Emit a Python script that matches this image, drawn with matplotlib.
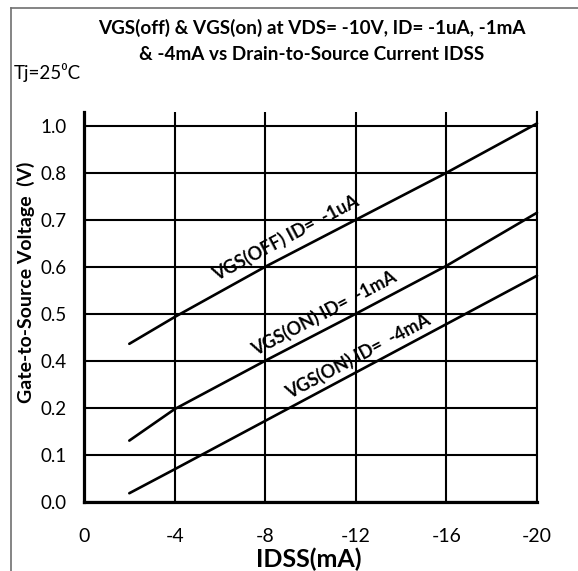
import matplotlib.pyplot as plt
import numpy as np
from matplotlib.lines import Line2D

# data
idss = [-2, -4, -8, -12, -16, -20]
vgs_off_1ua = [0.436, 0.493, 0.6, 0.7, 0.8, 1.01]
vgs_on_1ma = [0.130, 0.197, 0.4, 0.5, 0.602, 0.715]
vgs_on_4ma = [0.018, 0.069, 0.172, 0.35, 0.478, 0.581]

x_ticks = [0, -4, -8, -12, -16, -20]
y_ticks = [0.0, 0.1, 0.2, 0.4, 0.5, 0.6, 0.7, 0.8, 1.0]

# the y labels are evenly spaced although their values are not
_vals = [-0.1] + y_ticks + [1.2]
_pos = np.arange(len(_vals)) - 1.0


def fwd(v):
    return np.interp(v, _vals, _pos)


def inv(p):
    return np.interp(p, _pos, _vals)


W, H = 578, 571
plt.rcParams['font.family'] = ['Lato', 'DejaVu Sans']

fig = plt.figure(figsize=(W / 100, H / 100), dpi=100)
ax = fig.add_axes([84 / W, (H - 501.7) / H, (537 - 84) / W, 390 / H])

ax.set_yscale('function', functions=(fwd, inv))
ax.set_xlim(0, -20)
ax.set_ylim(0, inv(8.3))

for y in (vgs_off_1ua, vgs_on_1ma, vgs_on_4ma):
    ax.plot(idss, y, color='black', lw=1.9, solid_capstyle='round', clip_on=False)

ax.set_xticks(x_ticks)
ax.set_xticklabels([str(t) for t in x_ticks], fontsize=14)
ax.set_yticks(y_ticks)
ax.set_yticklabels(['%.1f' % t for t in y_ticks], fontsize=13.5)
ax.yaxis.set_minor_locator(plt.NullLocator())
ax.tick_params(axis='both', length=0)
ax.tick_params(axis='y', pad=12.5)
ax.tick_params(axis='x', pad=19)

ax.grid(True, color='black', lw=1.5)
ax.set_axisbelow(True)
ax.spines['top'].set_visible(False)
ax.spines['right'].set_linewidth(1.5)
ax.spines['left'].set_linewidth(2.3)
ax.spines['bottom'].set_linewidth(2.3)

lbl = dict(rotation=28, rotation_mode='anchor', ha='center', va='center',
           fontsize=13, fontweight='bold')
ax.text(-8.92, 0.661, 'VGS(OFF) ID=  -1uA', **lbl)
ax.text(-10.6, 0.501, 'VGS(ON) ID=  -1mA', **lbl)
ax.text(-12.1, 0.41, 'VGS(ON) ID=  -4mA', **lbl)

fig.text(312 / W, 1 - 27.5 / H, 'VGS(off) & VGS(on) at VDS= -10V, ID= -1uA, -1mA',
         ha='center', va='center', fontsize=13.6, fontweight='bold')
fig.text(312 / W, 1 - 54 / H, '& -4mA vs Drain-to-Source Current IDSS',
         ha='center', va='center', fontsize=13.6, fontweight='bold')
fig.text(14 / W, 1 - 73 / H, 'Tj=25\u2070C', ha='left', va='center', fontsize=13.5)
fig.text(26 / W, 1 - 282 / H, 'Gate-to-Source Voltage  (V)', rotation=90,
         ha='center', va='center', fontsize=14, fontweight='bold')
fig.text(309 / W, 1 - 567.5 / H, 'IDSS(mA)', ha='center', va='baseline',
         fontsize=18, fontweight='bold')

# outer frame (only left and top edges show in the crop)
fig.add_artist(Line2D([10.5 / W, 10.5 / W], [0, 1 - 7.5 / H], color='#707070', lw=1.2))
fig.add_artist(Line2D([10.5 / W, 1], [1 - 7.5 / H, 1 - 7.5 / H], color='#707070', lw=1.2))

fig.savefig('out.png', dpi=100)
